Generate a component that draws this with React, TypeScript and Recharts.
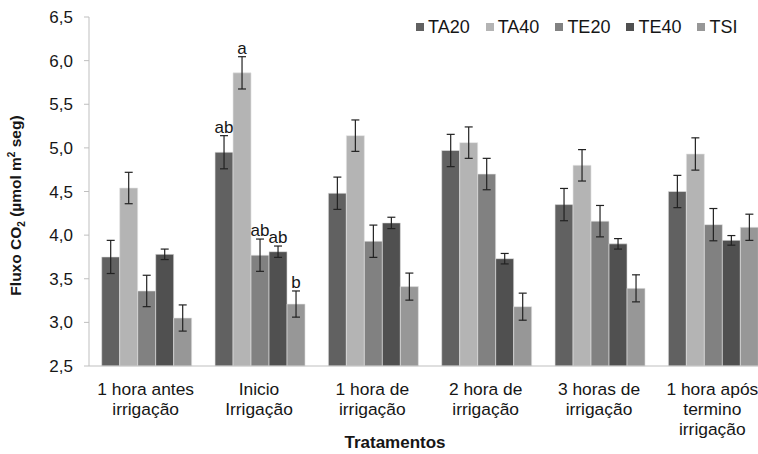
import React from "react";
import { BarChart, Bar, XAxis, YAxis, Legend, ErrorBar, LabelList } from "recharts";

const categories = [
  "1 hora antes\nirrigação",
  "Inicio\nIrrigação",
  "1 hora de\nirrigação",
  "2 hora de\nirrigação",
  "3 horas de\nirrigação",
  "1 hora após\ntermino\nirrigação",
];

const ta20 = [3.75, 4.95, 4.48, 4.97, 4.35, 4.5];
const ta40 = [4.54, 5.86, 5.14, 5.06, 4.8, 4.93];
const te20 = [3.36, 3.77, 3.93, 4.7, 4.16, 4.12];
const te40 = [3.78, 3.81, 4.14, 3.73, 3.9, 3.94];
const tsi = [3.05, 3.21, 3.41, 3.18, 3.39, 4.09];

const ta20Err = [0.19, 0.19, 0.185, 0.185, 0.185, 0.185];
const ta40Err = [0.18, 0.185, 0.18, 0.18, 0.18, 0.185];
const te20Err = [0.18, 0.185, 0.185, 0.18, 0.18, 0.185];
const te40Err = [0.06, 0.065, 0.065, 0.06, 0.06, 0.055];
const tsiErr = [0.15, 0.15, 0.155, 0.155, 0.155, 0.15];

const ta20Sig = ["", "ab", "", "", "", ""];
const ta40Sig = ["", "a", "", "", "", ""];
const te20Sig = ["", "ab", "", "", "", ""];
const te40Sig = ["", "ab", "", "", "", ""];
const tsiSig = ["", "b", "", "", "", ""];

const yTicks = [2.5, 3, 3.5, 4, 4.5, 5, 5.5, 6, 6.5];

const series = [
  { key: "TA20", color: "#616161", values: ta20, err: ta20Err, sig: ta20Sig },
  { key: "TA40", color: "#b4b4b4", values: ta40, err: ta40Err, sig: ta40Sig },
  { key: "TE20", color: "#818181", values: te20, err: te20Err, sig: te20Sig },
  { key: "TE40", color: "#505050", values: te40, err: te40Err, sig: te40Sig },
  { key: "TSI", color: "#979797", values: tsi, err: tsiErr, sig: tsiSig },
];

const data = categories.map((name, i) => {
  const row: Record<string, string | number> = { name };
  series.forEach((s) => {
    row[s.key] = s.values[i];
    row[s.key + "Err"] = s.err[i];
  });
  return row;
});

const TEXT = "#161616";
const AXIS = "#bfbfbf";

function CategoryTick(props: any) {
  const { x, y, payload } = props;
  const lines = String(payload.value).split("\n");
  return (
    <text x={x} y={y} textAnchor="middle" fill={TEXT} fontSize={17.4}>
      {lines.map((line, i) => (
        <tspan key={i} x={x} y={y + 29 + i * 20}>
          {line}
        </tspan>
      ))}
    </text>
  );
}

function renderSig(p: any, s: (typeof series)[number]) {
  const { x, y, width, height, value, index } = p;
  const letter = s.sig[index];
  if (!letter) return null;
  const pxPerUnit = height / (value - 2.5);
  const top = y - s.err[index] * pxPerUnit;
  return (
    <text key={s.key + index} x={x + width / 2} y={top - 3} textAnchor="middle" fill={TEXT} fontSize={17}>
      {letter}
    </text>
  );
}

function YTitle(props: any) {
  const vb = props.viewBox || { x: 29, y: 17, width: 60, height: 349 };
  const cx = vb.x - 8;
  const cy = vb.y + vb.height / 2 + 14;
  return (
    <text
      x={cx}
      y={cy}
      transform={`rotate(-90, ${cx}, ${cy})`}
      textAnchor="middle"
      fill={TEXT}
      fontSize={15.5}
      fontWeight="bold"
    >
      Fluxo CO
      <tspan fontSize={10} dy={4}>2</tspan>
      <tspan dy={-4}> (µmol m</tspan>
      <tspan fontSize={10} dy={-6}>2</tspan>
      <tspan dy={6}> seg)</tspan>
    </text>
  );
}

function XTitle(props: any) {
  const vb = props.viewBox || { x: 89, y: 366, width: 680, height: 70 };
  return (
    <text x={vb.x + 306} y={vb.y + 82} textAnchor="middle" fill={TEXT} fontSize={17} fontWeight="bold">
      Tratamentos
    </text>
  );
}

const renderLegend = () => (
  <div style={{ display: "flex", alignItems: "center", whiteSpace: "nowrap", fontSize: 18, color: TEXT, lineHeight: "20px" }}>
    {series.map((s) => (
      <div key={s.key} style={{ display: "flex", alignItems: "center", marginRight: 16 }}>
        <span style={{ display: "inline-block", width: 8, height: 8, background: s.color, marginRight: 4 }} />
        <span>{s.key}</span>
      </div>
    ))}
  </div>
);

export default function App() {
  return (
    <div
      style={{
        position: "absolute",
        left: 0,
        top: 0,
        width: 758,
        height: 454,
        overflow: "hidden",
        background: "#fff",
        fontFamily: "'Liberation Sans', Arial, sans-serif",
      }}
    >
      <BarChart
        width={770}
        height={454}
        data={data}
        margin={{ top: 17, right: 1, left: 29, bottom: 18 }}
        barCategoryGap={12.7}
        barGap={0}
      >
        <XAxis
          dataKey="name"
          height={70}
          interval={0}
          tick={<CategoryTick />}
          tickLine={false}
          tickSize={0}
          tickMargin={0}
          axisLine={{ stroke: AXIS }}
          label={(p: any) => <XTitle {...p} />}
        />
        <YAxis
          domain={[2.5, 6.5]}
          ticks={yTicks}
          width={60}
          interval={0}
          tickFormatter={(v: number) => v.toFixed(1).replace(".", ",")}
          tick={{ fill: TEXT, fontSize: 17 }}
          tickSize={5}
          tickMargin={11}
          tickLine={{ stroke: AXIS }}
          axisLine={{ stroke: AXIS }}
          label={(p: any) => <YTitle {...p} />}
        />
        <Legend
          layout="horizontal"
          verticalAlign="middle"
          align="center"
          content={renderLegend}
          wrapperStyle={{ top: 17, left: 416, width: "auto" }}
        />
        {series.map((s) => (
          <Bar key={s.key} dataKey={s.key} fill={s.color} stroke="#e4e4e4" strokeWidth={0.6} isAnimationActive={false}>
            <ErrorBar dataKey={s.key + "Err"} width={4} stroke="#222" strokeWidth={1.2} direction="y" />
            <LabelList dataKey={s.key} content={(p: any) => renderSig(p, s)} />
          </Bar>
        ))}
      </BarChart>
    </div>
  );
}
